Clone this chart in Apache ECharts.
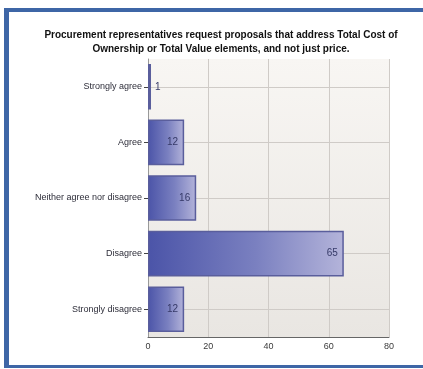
<!DOCTYPE html>
<html><head><meta charset="utf-8">
<script src="https://cdn.jsdelivr.net/npm/echarts@6/dist/echarts.min.js"></script>
<style>html,body{margin:0;padding:0;background:#fff}#c{width:423px;height:369px}</style>
</head><body><div id="c"></div>
<script>
const categories = ["Strongly agree","Agree","Neither agree nor disagree","Disagree","Strongly disagree"];
const values = [1,12,16,65,12];
const xTicks = [0,20,40,60,80];
const titleText = "Procurement representatives request proposals that address Total Cost of\nOwnership or Total Value elements, and not just price.";

const chart = echarts.init(document.getElementById('c'), null, {renderer:'canvas'});
chart.setOption({
  animation:false,
  backgroundColor:'#fff',
  title:{text:titleText,left:216,top:23,textAlign:'center',
    textStyle:{fontFamily:'Liberation Sans',fontSize:10,fontWeight:'bold',color:'#111',lineHeight:14}},
  graphic:[
    {type:'rect',shape:{x:4,y:8,width:419,height:4},style:{fill:'#3e66a6'},silent:true},
    {type:'rect',shape:{x:4,y:8,width:5,height:360},style:{fill:'#3e66a6'},silent:true},
    {type:'rect',shape:{x:4,y:365,width:419,height:3},style:{fill:'#3e66a6'},silent:true}
  ],
  grid:{left:148,top:59,width:241,height:278,
    show:true,borderWidth:0,
    backgroundColor:{type:'linear',x:0,y:0,x2:0,y2:1,colorStops:[{offset:0,color:'#f8f6f3'},{offset:1,color:'#e9e6e2'}]}},
  xAxis:{type:'value',min:0,max:80,interval:20,
    axisLine:{show:true,lineStyle:{color:'#666',width:1}},
    axisTick:{show:false},
    axisLabel:{fontFamily:'Liberation Sans',fontSize:9,color:'#3a3a3a',margin:5,
      formatter:v=>xTicks.includes(v)?String(v):''},
    splitLine:{show:true,lineStyle:{color:'#cfcbc7',width:1}}},
  yAxis:{type:'category',data:categories,inverse:true,
    axisLine:{show:true,lineStyle:{color:'#999'}},
    axisTick:{show:true,alignWithLabel:true,length:4,lineStyle:{color:'#444'}},
    axisLabel:{fontFamily:'Liberation Sans',fontSize:9,color:'#2e2e3a',margin:6},
    splitLine:{show:false}},
  series:[
    {type:'bar',data:values.map(v=>v<5?{value:v,label:{position:'right',distance:4}}:v),barWidth:'82%',
     itemStyle:{borderColor:'#5a5e9c',borderWidth:1.5,
       color:{type:'linear',x:0,y:0,x2:1,y2:0,colorStops:[
         {offset:0,color:'#4b54a8'},{offset:0.55,color:'#7a80c0'},{offset:1,color:'#b4b4da'}]}},
     label:{show:true,position:'insideRight',distance:6,fontFamily:'Liberation Sans',fontSize:10,color:'#363a68',
       formatter:p=>String(p.value)},
     z:3},
    {type:'line',data:values.map(()=>0),symbol:'none',lineStyle:{opacity:0},silent:true,z:1,
     markLine:{silent:true,z:1,symbol:'none',label:{show:false},lineStyle:{color:'#cfcbc7',type:'solid',width:1},
       data:categories.map(c=>({yAxis:c}))}}
  ]
});
</script></body></html>
